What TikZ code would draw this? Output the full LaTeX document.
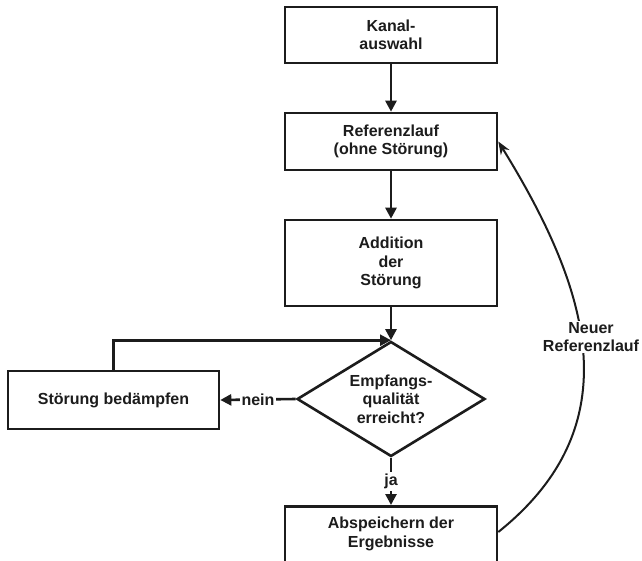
\documentclass[tikz,border=0pt]{standalone}
\usepackage{fontspec}
\setmainfont{Liberation Sans}
\usetikzlibrary{shapes.geometric,arrows.meta,calc}
\definecolor{ink}{HTML}{1C1C1C}
\begin{document}
\begin{tikzpicture}[x=1pt,y=-1pt,
  every node/.style={font=\bfseries\fontsize{16}{18.5}\selectfont, text=ink, align=center},
  stepbox/.style={draw=ink, line width=2.6pt, rectangle, minimum width=212, inner sep=0pt},
  decision/.style={draw=ink, line width=2.6pt, diamond, aspect=1.63, minimum width=188, minimum height=115, inner sep=0pt},
  flow/.style={draw=ink, line width=2.6pt, -{Triangle[length=11pt,width=11pt]}},
  lbl/.style={fill=white, inner sep=2pt}]
  \useasboundingbox[fill=white] (0,0) rectangle (642,561);

  % main column
  \node[stepbox, minimum height=56] (kanal) at (391,35) {Kanal-\\auswahl};
  \node[stepbox, minimum height=57] (ref) at (391,141.5) {Referenzlauf\\(ohne Störung)};
  \node[stepbox, minimum height=86] (add) at (391,263) {Addition\\der\\Störung};
  \node[decision] (dia) at (391,399) {Empfangs-\\qualität\\erreicht?};
  \node[stepbox, minimum height=72, anchor=north] (save) at (391,505) {};
  \node (savetext) at (391,534) {Abspeichern der\\Ergebnisse};

  % side branch
  \node[stepbox, minimum width=211, minimum height=58] (damp) at (113.5,400) {Störung bedämpfen};

  % connectors
  \draw[flow] (kanal) -- (ref);
  \draw[flow] (ref) -- (add);
  \draw[flow] (add) -- (dia.north);
  \draw[flow] (dia.west) -- node[lbl] {nein} (damp.east);
  \draw[flow] (dia.south) -- node[lbl] {ja} (save.north);
  \draw[flow] (damp.north) |- (dia.north);

  % loop back for a new reference run
  \coordinate (loopstart) at ($(save.north east)+(0,27)$);
  \draw[draw=ink, line width=2pt, -{Stealth[length=13pt,width=10pt]}]
    (loopstart) .. controls (632,425) and (590,290) .. (ref.east);
  \node[lbl, inner sep=1pt] (neu) at (591,337) {Neuer\\Referenzlauf};
\end{tikzpicture}
\end{document}
